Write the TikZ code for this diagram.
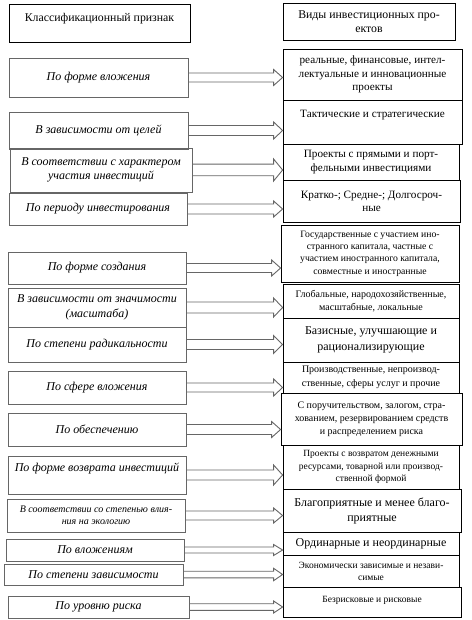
\documentclass[tikz,border=0pt]{standalone}
\usepackage{fontspec}
\setmainfont{Liberation Serif}
\usetikzlibrary{calc}

% block arrow from a left box to a right box: shaft half width, head half width
\newcommand{\blockarrow}[4]{%
  \coordinate (tip) at (#2.west |- #1.east);
  \draw[arrowline] ($(#1.east)+(0,-#3)$) -- ($(tip)+(-9,-#3)$) -- ($(tip)+(-9,-#4)$) -- (tip)
    -- ($(tip)+(-9,#4)$) -- ($(tip)+(-9,#3)$) -- ($(#1.east)+(0,#3)$);}

\begin{document}
\begin{tikzpicture}[x=1pt,y=-1pt,
  lbox/.style={draw=black!60,line width=0.9pt,align=center,inner sep=1pt,font=\itshape\fontsize{12}{14.5}\selectfont},
  rbox/.style={draw,line width=0.8pt,align=center,inner sep=1pt,font=\fontsize{11.2}{13.5}\selectfont},
  wh/.style 2 args={minimum width=#1pt,minimum height=#2pt},
  arrowline/.style={draw=black!60,line width=0.9pt,line join=miter}]
\useasboundingbox (0,0) rectangle (471,620);

% headers
\node[rbox,wh={181}{38},font=\fontsize{11.8}{14}\selectfont,text depth=11pt] (kp) at (99.5,23) {Классификационный признак};
\node[rbox,wh={172}{37},font=\fontsize{11.8}{14}\selectfont] (vp) at (369,21.5) {Виды инвестиционных про-\\ектов};

% classification features
\node[lbox,wh={179}{39}] (forma) at (98.5,77.5) {По форме вложения};
\node[lbox,wh={179}{37}] (celi) at (98.5,130.5) {В зависимости от целей};
\node[lbox,wh={182}{44}] (harakter) at (101,170) {В соответствии с характером\\участия инвестиций};
\node[lbox,wh={178}{32}] (period) at (98,209) {По периоду инвестирования};
\node[lbox,wh={178}{32}] (sozd) at (97,268) {По форме создания};
\node[lbox,wh={178}{39}] (znach) at (97,307.5) {В зависимости от значимости\\(масштаба)};
\node[lbox,wh={178}{35}] (radik) at (97,344.5) {По степени радикальности};
\node[lbox,wh={178}{33}] (sfera) at (97,387.5) {По сфере вложения};
\node[lbox,wh={178}{33}] (obesp) at (97,429.5) {По обеспечению};
\node[lbox,wh={178}{38},text depth=15pt] (vozvrat) at (97,475) {По форме возврата инвестиций};
\node[lbox,wh={178}{33},font=\itshape\fontsize{10}{12}\selectfont] (ekol) at (96,515.5) {В соответствии со степенью влия-\\ния на экологию};
\node[lbox,wh={178}{22}] (vlozh) at (95,550) {По вложениям};
\node[lbox,wh={179}{21}] (zavis) at (93.5,574.5) {По степени зависимости};
\node[lbox,wh={181}{22}] (risk) at (98.5,607) {По уровню риска};

% kinds of projects
\node[rbox,wh={179}{51}] (vid1) at (372.5,74.5) {реальные, финансовые, интел-\\лектуальные и инновационные\\проекты};
\node[rbox,wh={179}{44},text depth=17pt] (vid2) at (372.5,122) {Тактические и стратегические};
\node[rbox,wh={176}{36}] (vid3) at (371,162) {Проекты с прямыми и порт-\\фельными инвестициями};
\node[rbox,wh={177}{42}] (vid4) at (371.5,201.5) {Кратко-; Средне-; Долгосроч-\\ные};
\node[rbox,wh={178}{57},font=\fontsize{9.7}{12.3}\selectfont] (vid5) at (370,253.5) {Государственные с участием ино-\\странного капитала, частные с\\участием иностранного капитала,\\совместные и иностранные};
\node[rbox,wh={176}{34},font=\fontsize{10}{13.5}\selectfont] (vid6) at (371,301) {Глобальные, народохозяйственные,\\масштабные, локальные};
\node[rbox,wh={176}{44},font=\fontsize{12}{15.5}\selectfont] (vid7) at (371,340) {Базисные, улучшающие и\\рационализирующие};
\node[rbox,wh={176}{31},font=\fontsize{10}{14}\selectfont] (vid8) at (371,377.5) {Производственные, непроизвод-\\ственные, сферы услуг и прочие};
\node[rbox,wh={181}{52},font=\fontsize{10}{13}\selectfont] (vid9) at (371.5,419) {С поручительством, залогом, стра-\\хованием, резервированием средств\\и распределением риска};
\node[rbox,wh={176}{44},font=\fontsize{9.5}{12.5}\selectfont] (vid10) at (371,467) {Проекты с возвратом денежными\\ресурсами, товарной или производ-\\ственной формой};
\node[rbox,wh={178}{43},font=\fontsize{12}{15}\selectfont] (vid11) at (372,510.5) {Благоприятные и менее благо-\\приятные};
\node[rbox,wh={176}{23},font=\fontsize{12}{15}\selectfont] (vid12) at (371,543.5) {Ординарные и неординарные};
\node[rbox,wh={176}{32},font=\fontsize{9.5}{12}\selectfont] (vid13) at (371,571) {Экономически зависимые и незави-\\симые};
\node[rbox,wh={178}{30},font=\fontsize{9.5}{12}\selectfont,text depth=6pt] (vid14) at (372,602) {Безрисковые и рисковые};

% arrows
\blockarrow{forma}{vid1}{4.5}{8}
\blockarrow{celi}{vid2}{5}{8.5}
\blockarrow{harakter}{vid3}{5.8}{11}
\blockarrow{period}{vid4}{5}{8}
\blockarrow{sozd}{vid5}{4.5}{8}
\blockarrow{znach}{vid6}{5.5}{9.5}
\blockarrow{radik}{vid7}{5}{9}
\blockarrow{sfera}{vid8}{4.5}{8.5}
\blockarrow{obesp}{vid9}{5}{8}
\blockarrow{vozvrat}{vid10}{5}{10}
\blockarrow{ekol}{vid11}{4.5}{7.5}
\blockarrow{vlozh}{vid12}{3}{5.5}
\blockarrow{zavis}{vid13}{3.3}{6.2}
\blockarrow{risk}{vid14}{3.3}{6}
\end{tikzpicture}
\end{document}
